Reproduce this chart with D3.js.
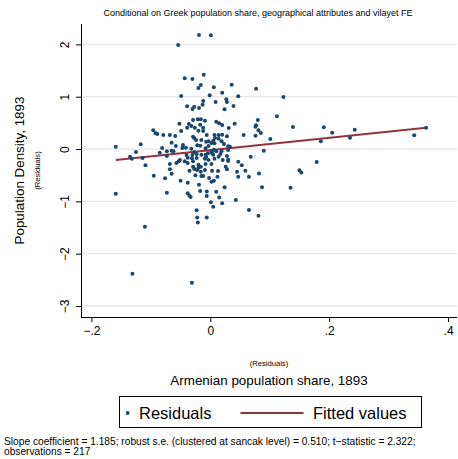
<!DOCTYPE html>
<html>
<head>
<meta charset="utf-8">
<script src="https://cdn.jsdelivr.net/npm/d3@7"></script>
<style>
  html, body { margin: 0; padding: 0; background: #fff; }
  svg { display: block; font-family: "Liberation Sans", Arial, Helvetica, sans-serif; }
</style>
</head>
<body>
<svg id="chart" width="458" height="459"></svg>
<script>
// ---- Data ----
const residX = [
 -0.019, 0.001,-0.054,-0.011,-0.043,-0.030,-0.016,-0.020, 0.006, 0.036,
  0.077,-0.049,-0.001, 0.020, 0.047, 0.123, 0.027, 0.028,-0.012, 0.009,
 -0.039,-0.027,-0.030,-0.013,-0.019, 0.039, 0.024, 0.112, 0.080, 0.077,
  0.076, 0.081, 0.085,-0.052,-0.036,-0.029,-0.021,-0.016,-0.009, 0.010,
  0.015, 0.020, 0.041,-0.039,-0.032,-0.026,-0.012,-0.020,-0.012, 0.031,
 -0.096,-0.092,-0.089,-0.079,-0.068,-0.059,-0.049,-0.029,-0.006, 0.007,
  0.014, 0.020, 0.056, 0.076, 0.139, 0.101, 0.191, 0.205, 0.186, 0.243,
  0.235, 0.343, 0.363, 0.008, 0.014, 0.019, 0.028,-0.017,-0.027,-0.024,
 -0.015,-0.007,-0.003, 0.005, 0.002,-0.159,-0.117,-0.081,-0.065,-0.058,
 -0.046,-0.041,-0.022,-0.017,-0.008,-0.003, 0.007, 0.023, 0.030,-0.032,
  0.033, 0.090,-0.047,-0.073,-0.062,-0.027,-0.023, 0.002,-0.004, 0.003,
  0.005, 0.006, 0.010, 0.019, 0.017, 0.030,-0.135,-0.132,-0.125,-0.114,
 -0.085,-0.073,-0.065,-0.051,-0.038,-0.030,-0.023,-0.008,-0.007,-0.003,
 -0.009,-0.015, 0.007, 0.014, 0.021, 0.028, 0.030, 0.047, 0.053, 0.068,
 -0.040,-0.031,-0.057,-0.053,-0.043,-0.038,-0.029, 0.002,-0.109,-0.068,
 -0.020,-0.029,-0.016,-0.008,-0.020,-0.009,-0.012,-0.002, 0.002, 0.006,
  0.012, 0.013, 0.003,-0.095,-0.076,-0.068,-0.065,-0.035,-0.027,-0.025,
 -0.022,-0.016,-0.015,-0.050,-0.038,-0.019,-0.017, 0.026, 0.028, 0.030,
  0.045, 0.047, 0.065, 0.082, 0.059, 0.150, 0.153, 0.179, 0.024, 0.087,
  0.135, 0.010, 0.015, 0.020, 0.005, 0.001, 0.043, 0.065, 0.081,-0.073,
 -0.159,-0.038,-0.035,-0.033,-0.006,-0.006,-0.023,-0.022,-0.021,-0.006,
 -0.110,-0.131,-0.031
];
const residY = [
  2.180, 2.174, 1.989, 1.421, 1.352, 1.338, 1.224, 1.166, 1.180, 1.229,
  1.153, 1.013, 1.027, 1.076, 1.008, 0.994, 0.950, 0.899, 0.918, 0.899,
  0.816, 0.809, 0.765, 0.847, 0.784, 0.822, 0.759, 0.625, 0.554, 0.453,
  0.426, 0.358, 0.306, 0.484, 0.478, 0.554, 0.568, 0.568, 0.541, 0.522,
  0.491, 0.459, 0.484, 0.407, 0.440, 0.407, 0.407, 0.350, 0.344, 0.402,
  0.358, 0.300, 0.287, 0.268, 0.268, 0.249, 0.344, 0.235, 0.268, 0.268,
  0.268, 0.273, 0.268, 0.254, 0.421, 0.191, 0.415, 0.312, 0.147, 0.369,
  0.216, 0.262, 0.407, 0.210, 0.197, 0.147, 0.243, 0.465, 0.210, 0.172,
  0.172, 0.140, 0.147, 0.159, 0.115, 0.044, 0.090, 0.019, 0.120, 0.057,
  0.076, 0.025, 0.071, 0.063, 0.013, 0.057, 0.109, 0.096,-0.019, 0.006,
  0.044,-0.033, 0.019,-0.044,-0.044,-0.057,-0.096,-0.044,-0.082,-0.082,
 -0.109,-0.013,-0.044,-0.044,-0.096, 0.052,-0.147,-0.185,-0.057,-0.172,
 -0.071,-0.134,-0.033,-0.210,-0.166,-0.115,-0.172,-0.109,-0.153,-0.210,
 -0.185,-0.109,-0.185,-0.147,-0.210,-0.134,-0.205,-0.243,-0.312,-0.147,
 -0.115,-0.178,-0.268,-0.235,-0.235,-0.268,-0.235,-0.287,-0.312,-0.287,
 -0.358,-0.338,-0.338,-0.287,-0.300,-0.402,-0.516,-0.554,-0.625,-0.606,
 -0.530,-0.421,-0.415,-0.510,-0.560,-0.388,-0.472,-0.415,-0.382,-0.503,
 -0.402,-0.434,-0.516,-0.606,-0.644,-0.683,-0.803,-0.338,-0.388,-0.229,
 -0.434,-0.530,-0.530,-0.465,-0.415,-0.407,-0.446,-0.249,-0.732,-0.732,
 -0.740,-0.816,-0.924,-1.038,-1.103,-1.019,-0.975,-1.166,-1.275,-0.836,
 -0.855,-0.847,-0.893,-0.918,-0.809,-0.899,-1.172,-1.306,-1.402,-1.310,
 -1.486,-2.384,-2.556
];
// Fitted values (OLS line endpoints over the x-range of the data)
const fitX = [-0.159, 0.363];
const fitY = [-0.210, 0.407];

const yTickValues = [-3, -2, -1, 0, 1, 2];
const yTickLabels = ["\u22123", "\u22122", "\u22121", "0", "1", "2"];
const xTickValues = [-0.2, 0, 0.2, 0.4];
const xTickLabels = ["\u2212.2", "0", ".2", ".4"];

const titleText = "Conditional on Greek population share, geographical attributes and vilayet FE";
const yTitle = "Population Density, 1893";
const xTitle = "Armenian population share, 1893";
const subTitle = "(Residuals)";
const legendLabels = ["Residuals", "Fitted values"];
const noteLines = [
  "Slope coefficient = 1.185; robust s.e. (clustered at sancak level) = 0.510; t\u2212statistic = 2.322;",
  "observations = 217"
];

// ---- Drawing ----
const svg = d3.select("#chart");
const plot = { left: 81, right: 457, top: 24, bottom: 317 };
const colDot = "#1a476f";
const colFit = "#90353b";

const x = d3.scaleLinear().domain([-0.2175, 0.415]).range([plot.left, plot.right]);
const y = d3.scaleLinear().domain([-3.21, 2.39]).range([plot.bottom, plot.top]);

svg.append("rect").attr("width", 458).attr("height", 459).attr("fill", "#fff");

// gridlines
svg.append("g").selectAll("line").data(yTickValues).join("line")
  .attr("x1", plot.left).attr("x2", plot.right)
  .attr("y1", d => y(d)).attr("y2", d => y(d))
  .attr("stroke", "#e6e6e6").attr("stroke-width", 1.3);

// title
svg.append("text").attr("x", 258).attr("y", 16).attr("text-anchor", "middle")
  .attr("font-size", 9).attr("fill", "#000").text(titleText);

// y axis
const yAxis = svg.append("g").attr("transform", `translate(${plot.left},0)`)
  .call(d3.axisLeft(y).tickValues(yTickValues).tickSize(5).tickSizeOuter(0)
    .tickFormat((d, i) => yTickLabels[i]));
yAxis.select(".domain").attr("stroke", "#000").attr("d", `M0.5,${plot.top}V${plot.bottom}`);
yAxis.selectAll(".tick line").attr("stroke", "#000");
yAxis.selectAll(".tick text")
  .attr("transform", "rotate(-90)").attr("x", 0).attr("y", -12).attr("dy", 0)
  .attr("text-anchor", "middle").attr("font-size", 12).attr("fill", "#000");

// x axis
const xAxis = svg.append("g").attr("transform", `translate(0,${plot.bottom})`)
  .call(d3.axisBottom(x).tickValues(xTickValues).tickSize(5).tickSizeOuter(0)
    .tickFormat((d, i) => xTickLabels[i]));
xAxis.select(".domain").attr("stroke", "#000").attr("d", `M${plot.left},0.5H${plot.right}`);
xAxis.selectAll(".tick line").attr("stroke", "#000");
xAxis.selectAll(".tick text").attr("y", 9).attr("dy", "0.71em")
  .attr("font-size", 12).attr("fill", "#000");

// axis titles
const midX = (plot.left + plot.right) / 2;
const midY = (plot.top + plot.bottom) / 2;
svg.append("text").attr("x", midX).attr("y", 366).attr("text-anchor", "middle")
  .attr("font-size", 7.6).text(subTitle);
svg.append("text").attr("x", midX).attr("y", 385).attr("text-anchor", "middle")
  .attr("font-size", 13.4).text(xTitle);
svg.append("text").attr("transform", `translate(40,${midY}) rotate(-90)`)
  .attr("text-anchor", "middle").attr("font-size", 7.6).text(subTitle);
svg.append("text").attr("transform", `translate(24,${midY}) rotate(-90)`)
  .attr("text-anchor", "middle").attr("font-size", 13.4).text(yTitle);

// fitted line
const pts = residX.map((v, i) => ({ x: v, y: residY[i] }));
svg.append("path")
  .datum(fitX.map((v, i) => [v, fitY[i]]))
  .attr("fill", "none").attr("stroke", colFit).attr("stroke-width", 2)
  .attr("d", d3.line().x(d => x(d[0])).y(d => y(d[1])));

// points
svg.append("g").selectAll("circle").data(pts).join("circle")
  .attr("cx", d => x(d.x)).attr("cy", d => y(d.y)).attr("r", 2)
  .attr("fill", colDot);

// legend
const lg = svg.append("g");
lg.append("rect").attr("x", 119.5).attr("y", 396.5).attr("width", 302).attr("height", 31)
  .attr("fill", "#fff").attr("stroke", "#000").attr("stroke-width", 1);
lg.append("circle").attr("cx", 127.7).attr("cy", 413).attr("r", 1.9).attr("fill", colDot);
lg.append("text").attr("x", 139).attr("y", 418.5).attr("font-size", 16.5).text(legendLabels[0]);
lg.append("line").attr("x1", 240.5).attr("x2", 303.5).attr("y1", 413).attr("y2", 413)
  .attr("stroke", colFit).attr("stroke-width", 2);
lg.append("text").attr("x", 313).attr("y", 418.5).attr("font-size", 16.5).text(legendLabels[1]);

// note
svg.selectAll(".note").data(noteLines).join("text").attr("class", "note")
  .attr("x", 4).attr("y", (d, i) => 445 + i * 10)
  .attr("font-size", 10.2).text(d => d);
</script>
</body>
</html>
